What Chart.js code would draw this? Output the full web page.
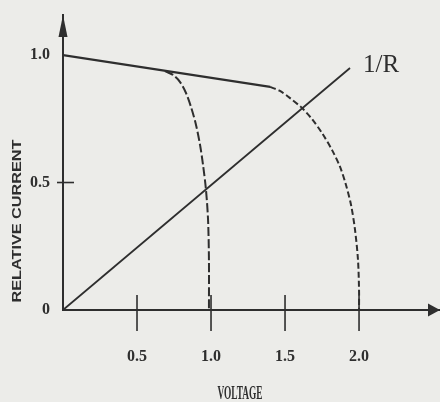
<!DOCTYPE html>
<html><head><meta charset="utf-8">
<script src="https://cdn.jsdelivr.net/npm/chart.js@4/dist/chart.umd.min.js"></script>
<style>html,body{margin:0;padding:0;background:#ecece9;}#wrap{width:440px;height:402px;}</style>
</head><body><div id="wrap"><canvas id="c" width="440" height="402"></canvas></div>
<script>
// ---- data ----
const xTickValues = [0.5, 1.0, 1.5, 2.0];
const xTickLabels = ['0.5', '1.0', '1.5', '2.0'];
const yTickValues = [0, 0.5, 1.0];
const yTickLabels = ['0', '0.5', '1.0'];
const yMarkedTicks = [0.5];

const topLineX = [0, 1.40];
const topLineY = [1.0, 0.875];

const curve1X = [0.689, 0.743, 0.791, 0.831, 0.865, 0.899, 0.926, 0.946, 0.966, 0.980, 0.986, 0.986];
const curve1Y = [0.937, 0.922, 0.894, 0.851, 0.796, 0.725, 0.647, 0.569, 0.471, 0.353, 0.196, 0];

const curve2X = [1.399, 1.466, 1.534, 1.615, 1.682, 1.750, 1.818, 1.872, 1.912, 1.946, 1.973, 1.993, 2.0, 2.0];
const curve2Y = [0.875, 0.859, 0.831, 0.792, 0.749, 0.694, 0.627, 0.561, 0.490, 0.412, 0.314, 0.196, 0.078, 0];

const loadLineX = [0, 1.939];
const loadLineY = [0, 0.949];
const loadLabel = '1/R';
const loadLabelPos = [2.027, 0.933];

const xTitle = 'VOLTAGE';
const yTitle = 'RELATIVE CURRENT';

const xMax = 2.547, yMax = 1.157;
const ink = '#2e2e2e';

function pts(xs, ys) { return xs.map((x, i) => ({x: x, y: ys[i]})); }

const deco = {
  id: 'deco',
  beforeDraw(chart) {
    const ctx = chart.ctx;
    ctx.save(); ctx.fillStyle = '#ecece9'; ctx.fillRect(0, 0, chart.width, chart.height); ctx.restore();
  },
  afterDraw(chart) {
    const ctx = chart.ctx, xs = chart.scales.x, ys = chart.scales.y;
    const x0 = xs.getPixelForValue(0), y0 = ys.getPixelForValue(0);
    ctx.save();
    ctx.strokeStyle = ink; ctx.fillStyle = ink; ctx.lineWidth = 1.6;
    xTickValues.forEach(v => {
      const px = xs.getPixelForValue(v);
      ctx.beginPath(); ctx.moveTo(px, y0 - 15); ctx.lineTo(px, y0 + 21); ctx.stroke();
    });
    yMarkedTicks.forEach(v => {
      const py = ys.getPixelForValue(v);
      ctx.beginPath(); ctx.moveTo(x0 - 6, py); ctx.lineTo(x0 + 11, py); ctx.stroke();
    });
    const yTop = ys.getPixelForValue(yMax);
    ctx.beginPath(); ctx.moveTo(x0, yTop); ctx.lineTo(x0 - 4.5, yTop + 22); ctx.lineTo(x0 + 4.5, yTop + 22); ctx.closePath(); ctx.fill();
    const xRight = xs.getPixelForValue(xMax);
    ctx.beginPath(); ctx.moveTo(xRight, y0); ctx.lineTo(xRight - 12, y0 - 6.5); ctx.lineTo(xRight - 12, y0 + 6.5); ctx.closePath(); ctx.fill();
    ctx.font = '25px "Liberation Serif"';
    ctx.textAlign = 'left'; ctx.textBaseline = 'alphabetic';
    ctx.fillText(loadLabel, xs.getPixelForValue(loadLabelPos[0]), ys.getPixelForValue(loadLabelPos[1]));
    ctx.font = 'bold 18px "Liberation Serif"';
    let w = ctx.measureText(xTitle).width;
    ctx.save(); ctx.translate(240, 394); ctx.scale(45 / w, 1);
    ctx.textAlign = 'center'; ctx.textBaseline = 'middle'; ctx.fillText(xTitle, 0, 0); ctx.restore();
    ctx.font = 'bold 12px "Liberation Sans"';
    w = ctx.measureText(yTitle).width;
    ctx.save(); ctx.translate(18, 221); ctx.rotate(-Math.PI / 2); ctx.scale(163 / w, 1);
    ctx.textAlign = 'center'; ctx.textBaseline = 'middle'; ctx.fillText(yTitle, 0, 0); ctx.restore();
    ctx.restore();
  }
};

new Chart(document.getElementById('c'), {
  type: 'scatter',
  data: {
    datasets: [
      {data: pts(topLineX, topLineY), showLine: true, borderColor: ink, borderWidth: 2.2, pointRadius: 0, tension: 0},
      {data: pts(curve1X, curve1Y), showLine: true, borderColor: ink, borderWidth: 2, borderDash: [9, 3], pointRadius: 0, tension: 0.3},
      {data: pts(curve2X, curve2Y), showLine: true, borderColor: ink, borderWidth: 2, borderDash: [6, 3], pointRadius: 0, tension: 0.3},
      {data: pts(loadLineX, loadLineY), showLine: true, borderColor: ink, borderWidth: 1.8, pointRadius: 0, tension: 0}
    ]
  },
  options: {
    responsive: false, animation: false,
    layout: {padding: {top: 15, right: 0, left: 0, bottom: 0}},
    plugins: {legend: {display: false}, tooltip: {enabled: false}},
    scales: {
      x: {
        type: 'linear', min: 0, max: xMax,
        afterFit(s) { s.height = 92; },
        afterBuildTicks(s) { s.ticks = xTickValues.map(v => ({value: v})); },
        grid: {display: false},
        border: {display: true, color: ink, width: 2},
        ticks: {padding: 29, color: ink, font: {family: 'Liberation Serif', size: 16, weight: 'bold'},
          callback: (v) => { const i = xTickValues.indexOf(v); return i >= 0 ? xTickLabels[i] : ''; }}
      },
      y: {
        type: 'linear', min: 0, max: yMax,
        afterFit(s) { s.width = 63; },
        afterBuildTicks(s) { s.ticks = yTickValues.map(v => ({value: v})); },
        grid: {display: false},
        border: {display: true, color: ink, width: 2},
        ticks: {padding: 5, color: ink, font: {family: 'Liberation Serif', size: 16, weight: 'bold'},
          callback: (v) => { const i = yTickValues.indexOf(v); return i >= 0 ? yTickLabels[i] : ''; }}
      }
    }
  },
  plugins: [deco]
});
</script></body></html>
